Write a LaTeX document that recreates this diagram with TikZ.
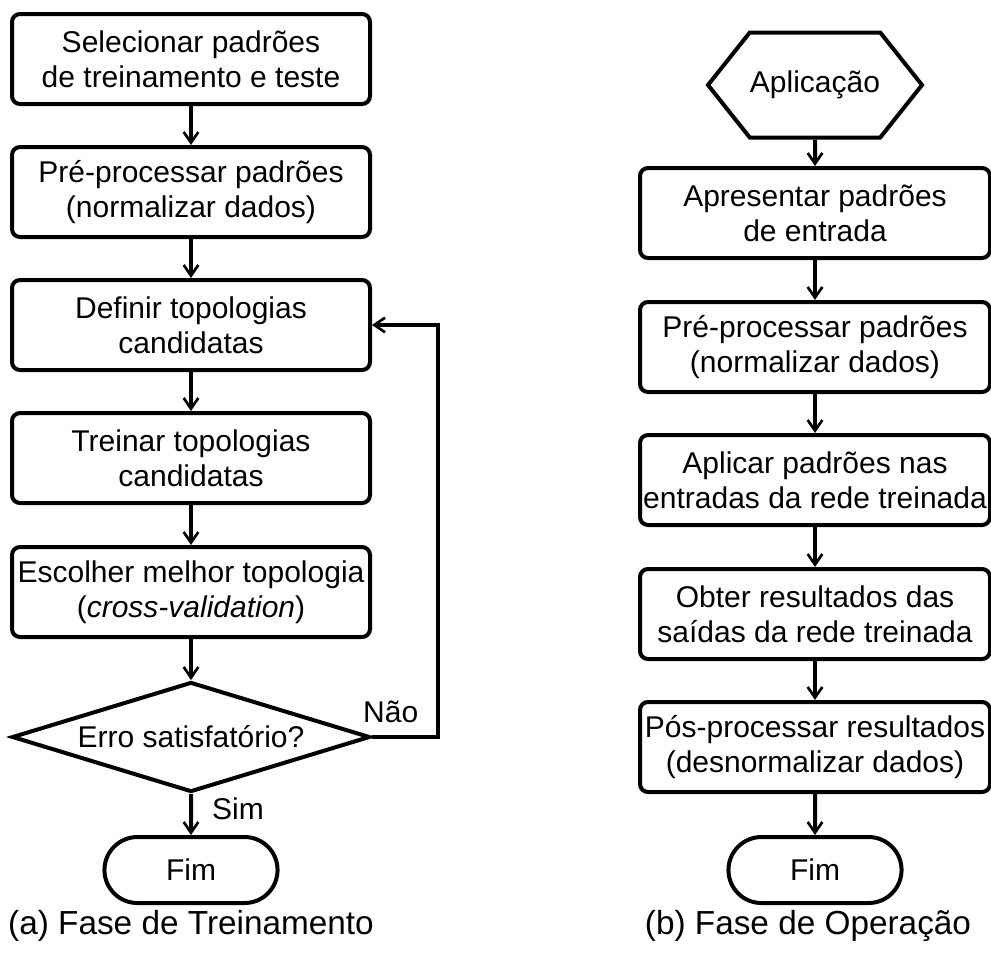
\documentclass[tikz,border=0pt]{standalone}
\usepackage{fontspec}
\setmainfont{Liberation Sans}
\usepackage{tikz}
\usetikzlibrary{arrows.meta, shapes.geometric, shapes.misc, shapes.symbols}

\tikzset{
  passo/.style={draw, line width=3pt, rounded corners=6pt, align=center,
    minimum width=268.5pt, minimum height=67.5pt, inner sep=0pt},
  passob/.style={passo, minimum width=262.5pt},
  fim/.style={draw, line width=3pt, rounded rectangle, minimum width=136.5pt,
    minimum height=49.5pt},
  fluxo/.style={line width=3pt, -{Straight Barb[length=8pt, width=11pt, line width=2pt]}},
}

\begin{document}
\begin{tikzpicture}[x=0.75pt, y=-0.75pt, font=\fontsize{22.5}{26}\selectfont]
    \useasboundingbox (0,0) rectangle (991,954);
    % fase de treinamento
    \node[passo] (t1) at (191, 59) {Selecionar padrões\\de treinamento e teste};
    \node[passo] (t2) at (191, 192) {Pré-processar padrões\\(normalizar dados)};
    \node[passo] (t3) at (191, 325) {Definir topologias\\candidatas};
    \node[passo] (t4) at (191, 458) {Treinar topologias\\candidatas};
    \node[passo] (t5) at (191, 592) {Escolher melhor topologia\\(\textit{cross-validation})};
    \node[draw, line width=3pt, diamond, aspect=3.25, minimum width=268.5pt, minimum height=82.5pt, inner sep=0pt] (t6) at (191, 737) {Erro satisfatório?};
    \node[fim] (t7) at (191, 870) {Fim};
    \node[font=\fontsize{25}{30}\selectfont] (ta) at (191, 926) {(a) Fase de Treinamento};
    \path[fluxo] (t1) edge (t2) ;
    \path[fluxo] (t2) edge (t3) ;
    \path[fluxo] (t3) edge (t4) ;
    \path[fluxo] (t4) edge (t5) ;
    \path[fluxo] (t5) edge (t6) ;
    \path[fluxo] (t6) edge node[right, xshift=11pt, yshift=4.5pt]{Sim} (t7) ;
    \draw[fluxo] (t6.east) -- ++(66,0) node[above left, xshift=-10pt, yshift=6pt]{Não} |- (t3.east);
    % fase de operacao
    \node[draw, line width=3pt, signal, signal to=east and west, signal pointer angle=103,
      minimum width=160.5pt, minimum height=78.75pt, inner sep=0pt] (o0) at (815, 85) {Aplicação};
    \node[passob] (o1) at (815, 213) {Apresentar padrões\\de entrada};
    \node[passob] (o2) at (815, 347) {Pré-processar padrões\\(normalizar dados)};
    \node[passob] (o3) at (815, 480) {Aplicar padrões nas\\entradas da rede treinada};
    \node[passob] (o4) at (815, 614) {Obter resultados das\\saídas da rede treinada};
    \node[passob] (o5) at (815, 747) {Pós-processar resultados\\(desnormalizar dados)};
    \node[fim] (o6) at (815, 870) {Fim};
    \node[font=\fontsize{25}{30}\selectfont] (ob) at (808, 926) {(b) Fase de Operação};
    \path[fluxo] (o0) edge (o1) ;
    \path[fluxo] (o1) edge (o2) ;
    \path[fluxo] (o2) edge (o3) ;
    \path[fluxo] (o3) edge (o4) ;
    \path[fluxo] (o4) edge (o5) ;
    \path[fluxo] (o5) edge (o6) ;
  \end{tikzpicture}
\end{document}
